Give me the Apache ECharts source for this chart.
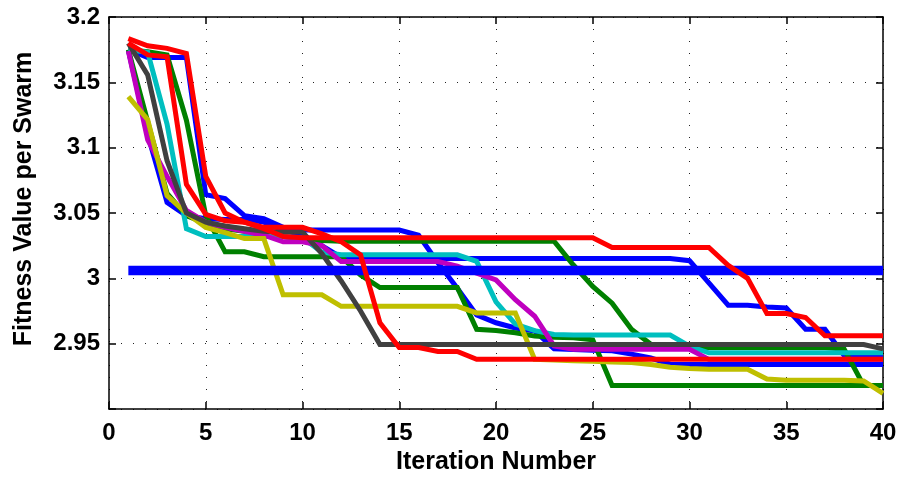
<!DOCTYPE html>
<html>
<head>
<meta charset="utf-8">
<script src="https://cdn.jsdelivr.net/npm/echarts@6/dist/echarts.min.js"></script>
<style>
html,body{margin:0;padding:0;background:#fff;}
#chart{width:901px;height:480px;}
</style>
</head>
<body>
<div id="chart"></div>
<script>
// ---- data ----
var iterations = [1,2,3,4,5,6,7,8,9,10,11,12,13,14,15,16,17,18,19,20,21,22,23,24,25,26,27,28,29,30,31,32,33,34,35,36,37,38,39,40];
var xTicks = [0,5,10,15,20,25,30,35,40];
var yTicks = [2.95,3,3.05,3.1,3.15,3.2];

var blueA = [3.175,3.169,3.169,3.169,3.064,3.061,3.048,3.0456,3.039,3.037,3.037,3.037,3.037,3.037,3.037,3.033,3.012,2.9925,2.972,2.966,2.962,2.9597,2.946,2.9455,2.945,2.9445,2.942,2.939,2.9343,2.934,2.934,2.934,2.934,2.934,2.934,2.934,2.934,2.934,2.934,2.934];
var blueB = [3.1746,3.11,3.058,3.048,3.0456,3.045,3.045,3.043,3.037,3.033,3.025,3.016,3.0152,3.0152,3.0152,3.0152,3.0152,3.0152,3.0152,3.0152,3.0152,3.0152,3.0152,3.0152,3.0152,3.0152,3.0152,3.0152,3.0152,3.0135,2.9965,2.9794,2.9794,2.978,2.9773,2.961,2.961,2.9407,2.9407,2.9407];
var greenA = [3.175,3.12,3.065,3.048,3.042,3.038,3.036,3.034,3.032,3.030,3.029,3.0284,3.0284,3.0284,3.0284,3.0284,3.0284,3.0284,3.0284,3.0284,3.0284,3.0284,3.0284,3.0102,2.9938,2.981,2.961,2.9495,2.948,2.947,2.947,2.947,2.947,2.947,2.947,2.947,2.947,2.9457,2.918,2.918];
var greenB = [3.175,3.1735,3.171,3.121,3.048,3.0203,3.0203,3.0165,3.0165,3.0165,3.0165,3.0165,3.0026,2.993,2.993,2.993,2.993,2.993,2.961,2.960,2.9584,2.9558,2.955,2.9545,2.953,2.918,2.918,2.918,2.918,2.918,2.918,2.918,2.918,2.918,2.918,2.918,2.918,2.918,2.918,2.918];
var redA = [3.1835,3.178,3.176,3.172,3.078,3.05,3.043,3.038,3.032,3.031,3.031,3.031,3.031,3.031,3.031,3.031,3.031,3.031,3.031,3.031,3.031,3.031,3.031,3.031,3.031,3.0236,3.0236,3.0236,3.0236,3.0236,3.0236,3.010,3.000,2.973,2.973,2.970,2.956,2.956,2.956,2.956];
var redB = [3.18,3.171,3.1695,3.072,3.049,3.044,3.043,3.039,3.039,3.039,3.034,3.028,3.018,2.966,2.947,2.947,2.944,2.944,2.938,2.938,2.938,2.938,2.938,2.938,2.938,2.938,2.938,2.938,2.938,2.938,2.938,2.938,2.938,2.938,2.938,2.938,2.938,2.938,2.938,2.938];
var cyanS = [3.175,3.173,3.118,3.038,3.032,3.032,3.032,3.032,3.032,3.031,3.02,3.018,3.018,3.018,3.018,3.018,3.018,3.018,3.013,2.982,2.965,2.960,2.957,2.9566,2.9566,2.9566,2.9566,2.9566,2.9566,2.948,2.943,2.943,2.943,2.943,2.943,2.943,2.943,2.943,2.943,2.943];
var magentaS = [3.174,3.106,3.078,3.052,3.043,3.039,3.036,3.033,3.028,3.028,3.025,3.0128,3.0128,3.0128,3.0128,3.0128,3.0128,3.0094,3.0039,2.9988,2.9836,2.971,2.9483,2.9457,2.9457,2.9457,2.9457,2.9457,2.9457,2.9457,2.938,2.938,2.938,2.938,2.938,2.938,2.938,2.938,2.938,2.938];
var yellowS = [3.139,3.1215,3.0633,3.05,3.039,3.035,3.0304,3.0304,2.9874,2.9874,2.9874,2.9786,2.9786,2.9786,2.9786,2.9786,2.9786,2.9786,2.9735,2.9735,2.9735,2.938,2.9375,2.937,2.9365,2.936,2.9355,2.934,2.932,2.931,2.9305,2.9305,2.9305,2.923,2.922,2.922,2.922,2.922,2.9215,2.912];
var grayS = [3.18,3.1556,3.09,3.05,3.043,3.040,3.038,3.036,3.0355,3.0355,3.019,2.998,2.975,2.9494,2.9494,2.9494,2.9494,2.9494,2.9494,2.9494,2.9494,2.9494,2.9494,2.9494,2.9494,2.9494,2.9494,2.9494,2.9494,2.9494,2.9494,2.9494,2.9494,2.9494,2.9494,2.9494,2.9494,2.9494,2.9494,2.946];
var thickBlue = [3.006,3.006,3.006,3.006,3.006,3.006,3.006,3.006,3.006,3.006,3.006,3.006,3.006,3.006,3.006,3.006,3.006,3.006,3.006,3.006,3.006,3.006,3.006,3.006,3.006,3.006,3.006,3.006,3.006,3.006,3.006,3.006,3.006,3.006,3.006,3.006,3.006,3.006,3.006,3.006];

var FONT = '"Liberation Sans", Arial, sans-serif';

function pairs(vals){ return iterations.map(function(x,i){ return [x, vals[i]]; }); }
function mk(name, vals, color, width){
  return {name:name, type:'line', data:pairs(vals), showSymbol:false, symbol:'none',
    lineStyle:{color:color, width:width, join:'miter', cap:'butt'}, itemStyle:{color:color},
    emphasis:{disabled:true}, silent:true, animation:false};
}

var LW = 5;
var seriesList = [
  mk('Swarm 1', blueA, '#0000ff', LW),
  mk('Swarm 8', blueB, '#0000ff', LW),
  mk('Swarm 2', greenA, '#008000', LW),
  mk('Swarm 9', greenB, '#008000', LW),
  mk('Swarm 4', cyanS, '#00bfbf', LW),
  mk('Swarm 5', magentaS, '#bf00bf', LW),
  mk('Swarm 6', yellowS, '#bfbf00', LW),
  mk('Swarm 7', grayS, '#404040', LW),
  mk('Global', thickBlue, '#0000ff', 9.5),
  mk('Swarm 3', redA, '#ff0000', LW),
  mk('Swarm 10', redB, '#ff0000', LW)
];

var chart = echarts.init(document.getElementById('chart'), null, {renderer:'canvas'});
var dotted = {show:true, lineStyle:{color:'#222', width:1, type:[1,11]}};
var axisLine = {show:true, onZero:false, lineStyle:{color:'#000', width:1.5}};
chart.setOption({
  animation:false,
  backgroundColor:'#fff',
  grid:{left:109, right:18, top:17, bottom:69.5, containLabel:false},
  xAxis:[{
    type:'value', min:xTicks[0], max:xTicks[xTicks.length-1], interval:5, position:'bottom',
    name:'Iteration Number', nameLocation:'middle', nameGap:41,
    nameTextStyle:{fontFamily:FONT, fontSize:25, fontWeight:'bold', color:'#000'},
    axisLine:axisLine, axisTick:{show:true, inside:true, length:7, lineStyle:{color:'#000', width:1.5}},
    axisLabel:{fontFamily:FONT, fontSize:24, fontWeight:'bold', color:'#000', margin:12},
    splitLine:dotted
  },{
    type:'value', min:xTicks[0], max:xTicks[xTicks.length-1], interval:5, position:'top',
    axisLine:axisLine, axisTick:{show:true, inside:true, length:7, lineStyle:{color:'#000', width:1.5}},
    axisLabel:{show:false}, splitLine:{show:false}
  }],
  yAxis:[{
    type:'value', min:2.9, max:3.2, interval:0.05, position:'left',
    name:'Fitness Value per Swarm', nameLocation:'middle', nameGap:72, nameRotate:90,
    nameTextStyle:{fontFamily:FONT, fontSize:25, fontWeight:'bold', color:'#000', padding:[0,0,0,28]},
    axisLine:axisLine, axisTick:{show:true, inside:true, length:7, lineStyle:{color:'#000', width:1.5}},
    axisLabel:{fontFamily:FONT, fontSize:24, fontWeight:'bold', color:'#000', margin:9,
      formatter:function(v){ var r=Math.round(v*100)/100; return (yTicks.indexOf(r)>=0)? String(r):''; }},
    splitLine:dotted
  },{
    type:'value', min:2.9, max:3.2, interval:0.05, position:'right',
    axisLine:axisLine, axisTick:{show:true, inside:true, length:7, lineStyle:{color:'#000', width:1.5}},
    axisLabel:{show:false}, splitLine:{show:false}
  }],
  series:seriesList
});
</script>
</body>
</html>
